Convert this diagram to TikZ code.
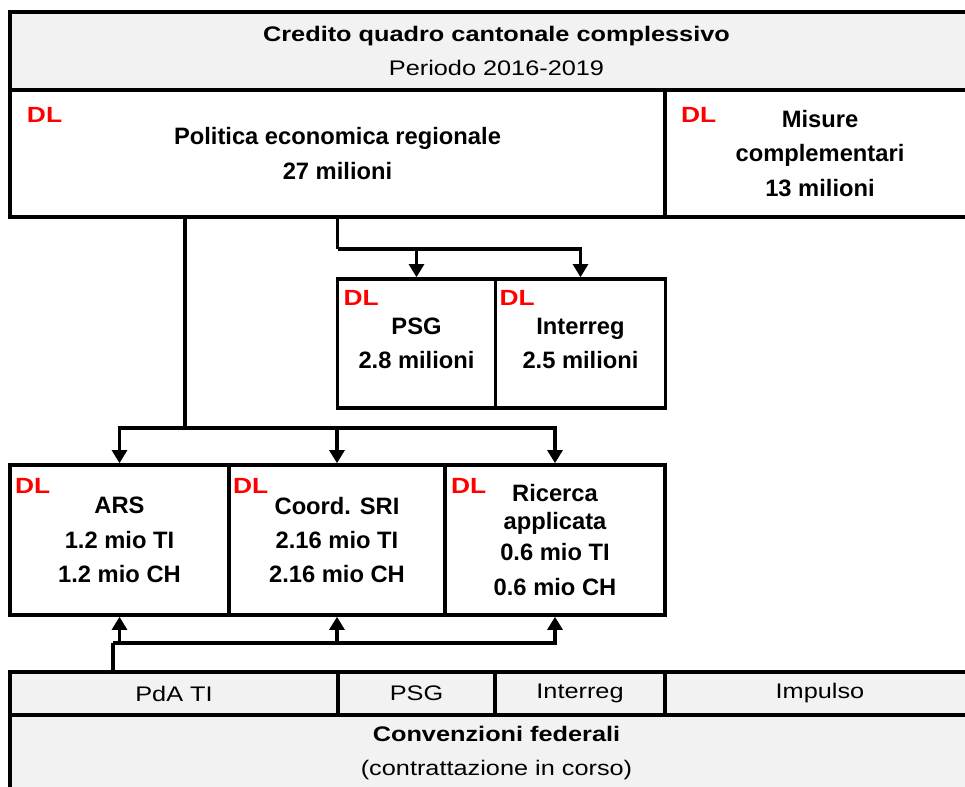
\documentclass[tikz,border=0pt]{standalone}
\usepackage{fontspec}
\setmainfont{Liberation Sans}[FakeStretch=1.2]
\newfontfamily\boxfont{Liberation Sans}
\usepackage{xcolor}
\usetikzlibrary{arrows.meta, positioning, calc}
\definecolor{panelgrey}{HTML}{F2F2F2}
\definecolor{dlred}{HTML}{FF0000}
\newlength\px
\setlength\px{0.02cm}

\begin{document}
\begin{tikzpicture}[x=0.02cm, y=-0.02cm,
    every node/.style={outer sep=0pt, inner sep=0pt},
    box/.style={rectangle, draw, line width=2pt, align=center, font=\boxfont\bfseries\fontsize{13.5}{19.5}\selectfont},
    greybox/.style={rectangle, draw, line width=1.8pt, fill=panelgrey, align=center, font=\fontsize{12}{19.3}\selectfont},
    dl/.style={anchor=north west, text=dlred, font=\bfseries\fontsize{12.5}{14}\selectfont},
    link/.style={line width=2pt},
    arr/.style={line width=2pt, shorten >=1pt, -{Triangle[length=7.5pt, width=8.5pt]}}]
    \useasboundingbox (0,0) rectangle (965,787);
    \clip (0,0) rectangle (965,787);

    % top: cantonal credit
    \node (head) [greybox, anchor=north west, minimum width=973\px, minimum height=78\px] at (10,12) {\textbf{Credito quadro cantonale complessivo}\\Periodo 2016-2019};
    \node (per) [box, anchor=north west, minimum width=655\px, minimum height=127\px] at (head.south west) {Politica economica regionale\\27 milioni};
    \node (mis) [box, right=0pt of per, minimum width=310\px, minimum height=127\px] {Misure\\complementari\\13 milioni};

    \node (psg) [box, anchor=north west, minimum width=158\px, minimum height=129\px] at (337.5,279) {PSG\\2.8 milioni};
    \node (intr) [box, right=0pt of psg, minimum width=170\px, minimum height=129\px] {Interreg\\2.5 milioni};

    \node (ars) [box, anchor=north west, minimum width=219\px, minimum height=150\px] at (10,465) {ARS\\1.2 mio TI\\1.2 mio CH};
    \node (sri) [box, right=0pt of ars, minimum width=216\px, minimum height=150\px] {Coord. SRI\\2.16 mio TI\\2.16 mio CH};
    \node (ric) [box, right=0pt of sri, minimum width=220\px, minimum height=150\px] {Ricerca\\[-4pt]applicata\\[-1.5pt]0.6 mio TI\\0.6 mio CH};

    % bottom: federal agreements
    \node (pda) [greybox, anchor=north west, minimum width=328\px, minimum height=43\px] at (10,672) {PdA TI};
    \node (psgf) [greybox, right=0pt of pda, minimum width=157\px, minimum height=43\px] {PSG};
    \node (intf) [greybox, right=0pt of psgf, minimum width=170\px, minimum height=43\px] {Interreg};
    \node (imp) [greybox, right=0pt of intf, minimum width=310\px, minimum height=43\px] {Impulso};
    \node (conv) [greybox, anchor=north west, minimum width=973\px, minimum height=76\px] at (pda.south west) {\textbf{Convenzioni federali}\\(contrattazione in corso)};

    \node (dlper) [dl] at ([shift={(17,17)}]per.north west) {DL};
    \node (dlmis) [dl] at ([shift={(16,17)}]mis.north west) {DL};
    \node (dlpsg) [dl] at ([shift={(6,11)}]psg.north west) {DL};
    \node (dlintr) [dl] at ([shift={(4,11)}]intr.north west) {DL};
    \node (dlars) [dl] at ([shift={(5,13)}]ars.north west) {DL};
    \node (dlsri) [dl] at ([shift={(4,13)}]sri.north west) {DL};
    \node (dlric) [dl] at ([shift={(6,13)}]ric.north west) {DL};

    \coordinate (fork1) at (185,428);
    \coordinate (fork2) at (337.5,249);
    \coordinate (fork3) at (113,643);

    \draw [link] (per.south -| fork1) -- (fork1);
    \draw [arr] (fork1) -| (ars.north);
    \draw [arr] (fork1) -| (sri.north);
    \draw [arr] (fork1) -| (ric.north);
    \draw [link] (per.south) -- (fork2);
    \draw [arr] (fork2) -| (psg.north);
    \draw [arr] (fork2) -| (intr.north);
    \draw [link] (pda.north -| fork3) -- (fork3);
    \draw [arr] (fork3) -| (ars.south);
    \draw [arr] (fork3) -| (sri.south);
    \draw [arr] (fork3) -| (ric.south);
\end{tikzpicture}
\end{document}
